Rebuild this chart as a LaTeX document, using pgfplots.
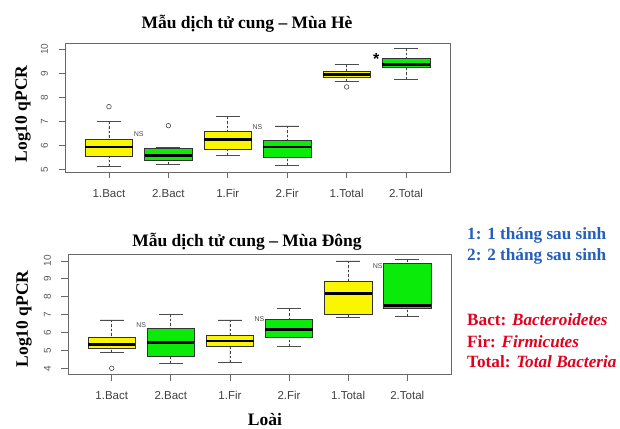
\documentclass[border=0pt]{standalone}
\usepackage{pgfplots}
\pgfplotsset{compat=1.18}
\usepgfplotslibrary{statistics}
\usepackage{fontspec}
\setmainfont{Liberation Serif}
\newfontfamily\arial{Liberation Sans}
\definecolor{rYellow}{RGB}{250,245,0}
\definecolor{rGreen}{RGB}{10,235,10}
\definecolor{txtBlue}{RGB}{35,95,190}
\definecolor{txtRed}{RGB}{225,0,30}
\definecolor{frameGray}{RGB}{105,105,105}

\tikzset{ns/.style={font=\arial\fontsize{7}{7}\selectfont, text=black!70}}

\pgfplotsset{
  rbox/.style={
    scale only axis,
    xmin=0.26, xmax=6.74,
    xtick={1,2,3,4,5,6},
    xticklabels={1.Bact,2.Bact,1.Fir,2.Fir,1.Total,2.Total},
    xtick pos=lower, ytick pos=left,
    tick align=outside,
    major tick length=6.5pt,
    tick style={frameGray, line width=0.8pt},
    axis line style={frameGray, line width=0.9pt},
    /pgf/number format/assume math mode=true,
    x tick label style={font=\arial\fontsize{11.5}{12}\selectfont, text=black!75},
    y tick label style={font=\arial\fontsize{10}{11}\selectfont, text=black!65, rotate=90, anchor=south},
    xticklabel shift=7.5pt,
    yticklabel shift=7pt,
    boxplot/draw direction=y,
    boxplot/box extend=0.8,
    boxplot/whisker extend=0.4,
    boxplot/every box/.style={draw=black!80, line width=0.6pt},
    boxplot/every median/.style={black, line width=2.5pt},
    boxplot/draw/lower whisker/.code={%
      \draw[black!75, line width=0.8pt, dash pattern=on 2.5pt off 2pt]
        (boxplot cs:\pgfplotsboxplotvalue{lower whisker}) -- (boxplot cs:\pgfplotsboxplotvalue{lower quartile});
      \draw[black!70, line width=0.7pt]
        (boxplot whisker cs:\pgfplotsboxplotvalue{lower whisker},0) -- (boxplot whisker cs:\pgfplotsboxplotvalue{lower whisker},1);
    },
    boxplot/draw/upper whisker/.code={%
      \draw[black!75, line width=0.8pt, dash pattern=on 2.5pt off 2pt]
        (boxplot cs:\pgfplotsboxplotvalue{upper whisker}) -- (boxplot cs:\pgfplotsboxplotvalue{upper quartile});
      \draw[black!70, line width=0.7pt]
        (boxplot whisker cs:\pgfplotsboxplotvalue{upper whisker},0) -- (boxplot whisker cs:\pgfplotsboxplotvalue{upper whisker},1);
    },
  },
  yb/.style={fill=rYellow, draw=black!80, mark=o, mark size=2.3pt, mark options={draw=black!70, fill=none, line width=0.6pt, solid}},
  gb/.style={fill=rGreen, draw=black!80, mark=o, mark size=2.3pt, mark options={draw=black!70, fill=none, line width=0.6pt, solid}},
}

\begin{document}
\begin{tikzpicture}[x=1pt,y=1pt]
\useasboundingbox (0,0) rectangle (620,428);
\fill[white] (0,0) rectangle (620,428);

% ---------- Top: Mua He ----------
\begin{axis}[rbox, at={(65pt,256pt)}, anchor=south west,
  width=385pt, height=129pt,
  ymin=4.89, ymax=10.26, ytick={5,6,7,8,9,10}]
\addplot[yb, boxplot prepared={draw position=1, median=5.94, upper quartile=6.25, lower quartile=5.53, upper whisker=6.99, lower whisker=5.11}] coordinates {(1,7.61)};
\addplot[gb, boxplot prepared={draw position=2, median=5.57, upper quartile=5.875, lower quartile=5.39, upper whisker=5.9, lower whisker=5.22}] coordinates {(2,6.82)};
\addplot[yb, boxplot prepared={draw position=3, median=6.25, upper quartile=6.57, lower quartile=5.83, upper whisker=7.19, lower whisker=5.57}] coordinates {};
\addplot[gb, boxplot prepared={draw position=4, median=5.94, upper quartile=6.19, lower quartile=5.49, upper whisker=6.81, lower whisker=5.15}] coordinates {};
\addplot[yb, boxplot prepared={draw position=5, median=8.95, upper quartile=9.07, lower quartile=8.84, upper whisker=9.38, lower whisker=8.67}] coordinates {(5,8.43)};
\addplot[gb, boxplot prepared={draw position=6, median=9.375, upper quartile=9.61, lower quartile=9.23, upper whisker=10.04, lower whisker=8.75}] coordinates {};
\node[ns] at (axis cs:1.5,6.47) {NS};
\node[ns] at (axis cs:3.5,6.76) {NS};
\node[font=\arial\bfseries\fontsize{16}{16}\selectfont, yshift=-3.5pt] at (axis cs:5.5,9.73) {*};
\end{axis}

% ---------- Bottom: Mua Dong ----------
\begin{axis}[rbox, at={(68pt,54pt)}, anchor=south west,
  width=383pt, height=119.7pt,
  ymin=3.68, ymax=10.37, ytick={4,5,6,7,8,9,10}]
\addplot[yb, boxplot prepared={draw position=1, median=5.34, upper quartile=5.73, lower quartile=5.10, upper whisker=6.70, lower whisker=4.88}] coordinates {(1,4.0)};
\addplot[gb, boxplot prepared={draw position=2, median=5.43, upper quartile=6.22, lower quartile=4.69, upper whisker=7.02, lower whisker=4.28}] coordinates {};
\addplot[yb, boxplot prepared={draw position=3, median=5.53, upper quartile=5.84, lower quartile=5.21, upper whisker=6.70, lower whisker=4.32}] coordinates {};
\addplot[gb, boxplot prepared={draw position=4, median=6.18, upper quartile=6.74, lower quartile=5.73, upper whisker=7.34, lower whisker=5.21}] coordinates {};
\addplot[yb, boxplot prepared={draw position=5, median=8.19, upper quartile=8.84, lower quartile=7.02, upper whisker=10.0, lower whisker=6.85}] coordinates {};
\addplot[gb, boxplot prepared={draw position=6, median=7.50, upper quartile=9.87, lower quartile=7.36, upper whisker=10.09, lower whisker=6.89}] coordinates {};
\node[ns] at (axis cs:1.5,6.42) {NS};
\node[ns] at (axis cs:3.5,6.74) {NS};
\node[ns] at (axis cs:5.5,9.72) {NS};
\end{axis}

% ---------- Texts ----------
\node[anchor=base, font=\bfseries\fontsize{17.5}{20}\selectfont] at (247,399.7) {Mẫu dịch tử cung – Mùa Hè};
\node[anchor=base, font=\bfseries\fontsize{17.5}{20}\selectfont] at (247,181.3) {Mẫu dịch tử cung – Mùa Đông};
\node[rotate=90, font=\bfseries\fontsize{17.5}{20}\selectfont] at (23,314) {Log10 qPCR};
\node[rotate=90, font=\bfseries\fontsize{17.5}{20}\selectfont] at (24,109) {Log10 qPCR};
\node[anchor=base, font=\bfseries\fontsize{17.5}{20}\selectfont] at (265,3) {Loài};

\begin{scope}[every node/.style={anchor=base west, inner sep=0pt, font=\bfseries\fontsize{17.2}{18}\selectfont}]
\node[text=txtBlue] at (467,188.5) {1: 1 tháng sau sinh};
\node[text=txtBlue] at (467,167) {2: 2 tháng sau sinh};
\node[text=txtRed] at (467,102) {Bact: \textit{Bacteroidetes}};
\node[text=txtRed] at (467,80.3) {Fir: \textit{Firmicutes}};
\node[text=txtRed] at (467,60.3) {Total: \textit{Total Bacteria}};
\end{scope}
\end{tikzpicture}
\end{document}
